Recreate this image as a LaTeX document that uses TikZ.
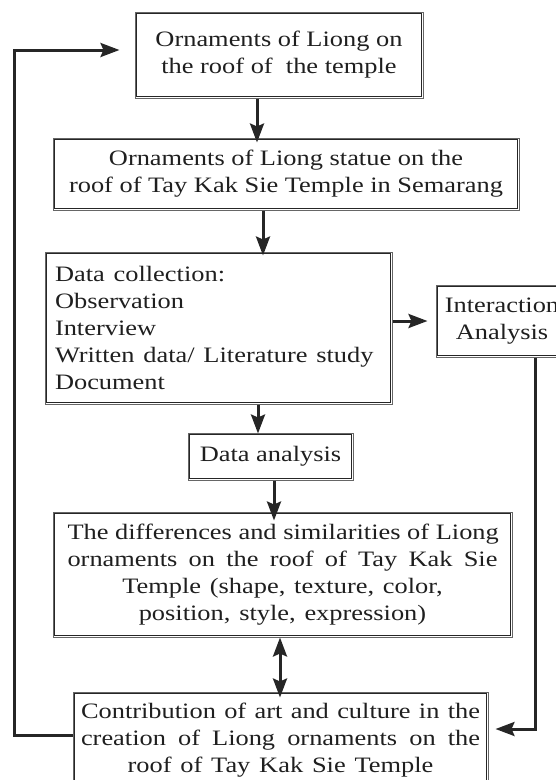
\documentclass[tikz,border=0pt]{standalone}
\usepackage{fontspec}
\usepackage{graphicx}
\setmainfont{Liberation Serif}
\usetikzlibrary{arrows.meta,calc}
\newcommand\sx[1]{\scalebox{1.2}[1]{#1}}
\newcommand\jl[2]{\scalebox{1.2}[1]{\makebox[#1][s]{\spaceskip=0.25em plus 1fil\relax #2}}}
\tikzset{
  box/.style={draw=black!60, line width=1pt, rectangle, inner sep=0pt,
    font=\fontsize{22}{27}\selectfont, text=black!88},
  innerbox/.style={draw=black!85, line width=1pt},
  conn/.style={line width=3pt, draw=black!85},
  tip/.style={-{Stealth[length=19pt,width=14pt,inset=3pt]}},
  tips/.style={{Stealth[length=19pt,width=14pt,inset=3pt]}-{Stealth[length=19pt,width=14pt,inset=3pt]}},
}
\begin{document}
\begin{tikzpicture}[x=1pt,y=-1pt]
\useasboundingbox (0,0) rectangle (556,780);
\node[box, minimum width=288pt, minimum height=86pt, align=center] (b1) at (279,55)
  {\sx{Ornaments of Liong on}\\ \sx{the roof of\ \ the temple}};
\node[box, minimum width=466pt, minimum height=72pt, align=center] (b2) at (286,174)
  {\sx{Ornaments of Liong statue on the}\\ \sx{roof of Tay Kak Sie Temple in Semarang}};
\node[box, minimum width=347pt, minimum height=152pt, text width=327pt, align=left] (b3) at (218.5,328)
  {\sx{Data collection:}\\ \sx{Observation}\\ \sx{Interview}\\ \sx{Written data/ Literature study}\\ \sx{Document}};
\node[box, minimum width=132pt, minimum height=72pt, align=center] (ia) at (502,321)
  {\sx{Interaction}\\ \sx{Analysis}};
\node[box, minimum width=165pt, minimum height=47pt, align=center] (da) at (270.5,456.5)
  {\sx{Data analysis}};
\node[box, minimum width=459pt, minimum height=125pt, text width=440pt, align=center] (b5) at (282.5,574.5)
  {\jl{358.3pt}{The differences and similarities of Liong}\\
   \jl{358.3pt}{ornaments on the roof of Tay Kak Sie}\\
   \sx{Temple (shape, texture, color,}\\ \sx{position, style, expression)}};
\node[box, minimum width=415pt, minimum height=96pt, text width=405pt, align=center] (b6) at (280.5,740)
  {\jl{332.5pt}{Contribution of art and culture in the}\\
   \jl{332.5pt}{creation of Liong ornaments on the}\\
   \sx{roof of Tay Kak Sie Temple}};
\foreach \n in {b1,b2,b3,ia,da,b5,b6}
  \draw[innerbox] ([shift={(2.2pt,-2.2pt)}]\n.north west) rectangle ([shift={(-2.2pt,2.2pt)}]\n.south east);
% connectors
\draw[conn,tip] ([xshift=-22pt]b1.south) -- ([xshift=-22pt,yshift=-5pt]b1.south |- b2.north);
\draw[conn,tip] ([xshift=-23pt]b2.south) -- ([xshift=-23pt,yshift=-4pt]b2.south |- b3.north);
\draw[conn,tip] (b3.east |- ia.west) -- ([xshift=-8pt]ia.west);
\draw[conn,tip] ([xshift=-12.5pt]da.north |- b3.south) -- ([xshift=-12.5pt,yshift=-1pt]da.north);
\draw[conn,tip] ([xshift=3.5pt]da.south) -- ([xshift=3.5pt,yshift=-9pt]da.south |- b5.north);
\draw[conn,tips] ([xshift=-0.5pt]b6.north |- b5.south) -- ([xshift=-0.5pt,yshift=-6pt]b6.north);
\coordinate (lf) at (14,0);
\draw[conn,tip] ([yshift=5pt]b6.west) -- ([yshift=5pt]lf |- b6.west) -- ([yshift=5pt]lf |- b1.west) -- ([xshift=-15pt,yshift=5pt]b1.west);
\coordinate (rt) at (535,0);
\draw[conn,tip] (rt |- ia.south) -- ([yshift=11pt]rt |- b6.east) -- ([xshift=7pt,yshift=11pt]b6.east);
\end{tikzpicture}
\end{document}
